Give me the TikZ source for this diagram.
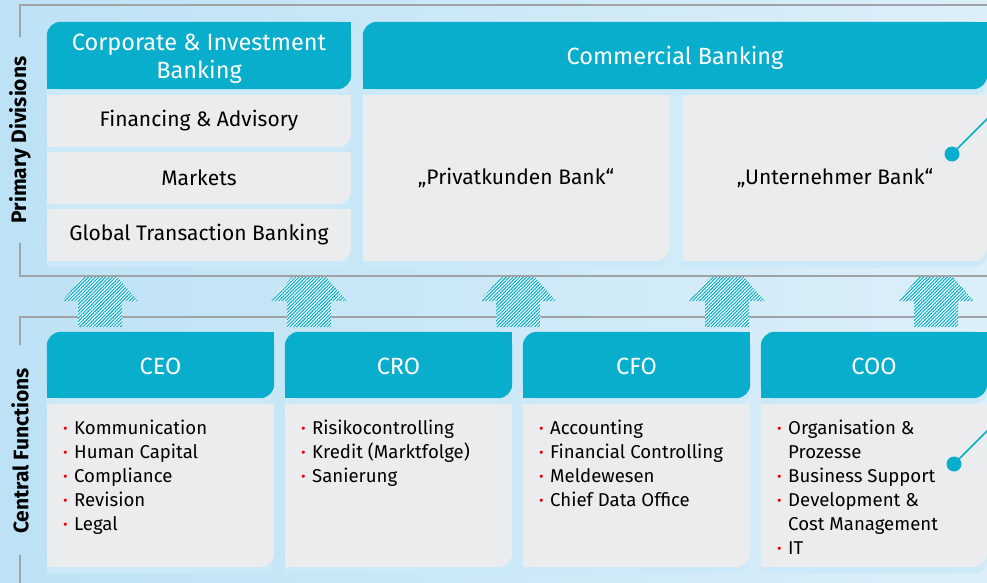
\documentclass[tikz,border=0pt]{standalone}
\usepackage{fontspec}
\setmainfont{Fira Sans}
\usetikzlibrary{patterns,patterns.meta,backgrounds}

\definecolor{tabcyan}{HTML}{0AAECD}
\definecolor{boxgray}{HTML}{EBECED}
\definecolor{bandblue}{HTML}{CBE9F8}
\definecolor{bgleft}{HTML}{BDE2F5}
\definecolor{bgright}{HTML}{DCEFF9}
\definecolor{framegray}{HTML}{A0A3A6}
\definecolor{bulred}{HTML}{E30613}

\tikzstyle{hdr}=[inner sep=0pt,minimum height=67pt,text=white,align=center,text height=19pt,text depth=0pt,font=\fontsize{23.5}{28}\selectfont]
\tikzstyle{cell}=[inner sep=0pt,font=\fontsize{21}{24}\selectfont]
\tikzstyle{lst}=[anchor=north west,align=left,inner sep=0pt,font=\fontsize{18.6}{24}\selectfont]
\tikzstyle{side}=[rotate=90,font=\fontsize{21}{24}\selectfont\bfseries]
\tikzstyle{frame}=[framegray,line width=1.3pt]
\tikzstyle{upar}=[pattern={Lines[angle=45,distance=2.4pt,line width=1.1pt]},pattern color=tabcyan]
\tikzstyle{pin}=[circle,fill=tabcyan,minimum size=15pt,inner sep=0pt]

\newcommand\bl{\makebox[11pt][l]{\textcolor{bulred}{\fontsize{14}{14}\selectfont\raisebox{1pt}{\textbullet}}}}
\newcommand\ind{\hspace*{11pt}}

% header tab: rounded top left and bottom right
\newcommand\tabshape[3]{%
\fill[#2,rounded corners=14pt] ([yshift=#3]#1.south west) rectangle ([yshift=#3]#1.north east);
\fill[#2] ([yshift=#3]#1.north east) rectangle ([xshift=-16pt,yshift=#3-16pt]#1.north east);
\fill[#2] ([yshift=#3]#1.south west) rectangle ([xshift=16pt,yshift=#3+16pt]#1.south west);}

% body box: rounded bottom right only
\newcommand\boxshape[3]{%
\fill[#2,rounded corners=14pt] ([yshift=#3]#1.south west) rectangle ([yshift=#3]#1.north east);
\fill[#2] ([yshift=#3]#1.south west) rectangle ([xshift=-16pt,yshift=#3]#1.north east);
\fill[#2] ([yshift=#3]#1.north west) rectangle ([yshift=#3+16pt]#1.south east);}

\begin{document}
\begin{tikzpicture}[x=1pt,y=-1pt]

\useasboundingbox (0,0) rectangle (987,583);

%%% Primary Divisions

\node[side] (pdlab) at (20,140) {Primary Divisions};

\node[hdr,minimum width=304pt,text height=47pt] (cib) at (199,55.5) {Corporate \& Investment\\Banking};
\node[cell,minimum width=304pt,minimum height=52pt] (fin) at (199,121) {Financing \& Advisory};
\node[cell,minimum width=304pt,minimum height=52pt] (mkt) at (199,178) {Markets};
\node[cell,minimum width=304pt,minimum height=52pt] (gtb) at (199,235) {Global Transaction Banking};

\node[hdr,minimum width=624pt] (cb) at (675,55.5) {Commercial Banking};
\node[cell,minimum width=306pt,minimum height=166pt] (pk) at (516,178) {„Privatkunden Bank“};
\node[cell,minimum width=304pt,minimum height=166pt] (ub) at (835,178) {„Unternehmer Bank“};

\node[pin] (pinub) at (952,154) {};
\coordinate (endub) at (992,114);
\draw[tabcyan,line width=1.6pt] (pinub.center) -- (endub);

%%% Central Functions

\node[side] (cflab) at (20,451) {Central Functions};

\node[hdr,minimum width=227pt,minimum height=66pt] (ceo) at (160.5,365) {CEO};
\node[hdr,minimum width=227pt,minimum height=66pt] (cro) at (398.5,365) {CRO};
\node[hdr,minimum width=227pt,minimum height=66pt] (cfo) at (636.5,365) {CFO};
\node[hdr,minimum width=226pt,minimum height=66pt] (coo) at (874,365) {COO};

\node[cell,minimum width=227pt,minimum height=163pt] (ceobox) at (160.5,485.5) {};
\node[cell,minimum width=227pt,minimum height=163pt] (crobox) at (398.5,485.5) {};
\node[cell,minimum width=227pt,minimum height=163pt] (cfobox) at (636.5,485.5) {};
\node[cell,minimum width=226pt,minimum height=163pt] (coobox) at (874,485.5) {};

\node[lst] (ceolist) at (63,420) {\bl Kommunication\\\bl Human Capital\\\bl Compliance\\\bl Revision\\\bl Legal};
\node[lst] (crolist) at (301,420) {\bl Risikocontrolling\\\bl Kredit (Marktfolge)\\\bl Sanierung};
\node[lst] (cfolist) at (539,420) {\bl Accounting\\\bl Financial Controlling\\\bl Meldewesen\\\bl Chief Data Office};
\node[lst] (coolist) at (777,420) {\bl Organisation \&\\\ind Prozesse\\\bl Business Support\\\bl Development \&\\\ind Cost Management\\\bl IT};

\node[pin] (pincoo) at (954,464) {};
\coordinate (endcoo) at (992,426);
\draw[tabcyan,line width=1.6pt] (pincoo.center) -- (endcoo);

%%% Shapes behind the text

\begin{scope}[on background layer]

\shade[left color=bgleft,right color=bgright] (0,0) rectangle (987,583);

% Frames
\draw[frame] (987,5) -- (20,5) -- (20,37);
\draw[frame] (20,243) -- (20,276) -- (987,276);
\draw[frame] (987,317) -- (20,317) -- (20,345);
\draw[frame] (20,555) -- (20,583);

% Up arrows
\foreach \ax in {100,309,518,727,936}
  \path[fill=white,postaction={upar}] ({\ax-22},327) -- ({\ax-22},301) -- ({\ax-38},301) -- ({\ax-17},277)
    -- ({\ax+17},277) -- ({\ax+38},301) -- ({\ax+22},301) -- ({\ax+22},327) -- cycle;

% Shadows
\foreach \n in {fin,mkt,gtb,pk,ub,ceobox,crobox,cfobox,coobox}
  \boxshape{\n}{bandblue}{-6pt};
\foreach \n in {cib,cb,ceo,cro,cfo,coo}
  \tabshape{\n}{bandblue}{-6pt};

% Boxes
\foreach \n in {fin,mkt,gtb,pk,ub,ceobox,crobox,cfobox,coobox}
  \boxshape{\n}{boxgray}{0pt};
\foreach \n in {cib,cb,ceo,cro,cfo,coo}
  \tabshape{\n}{tabcyan}{0pt};

\end{scope}

\end{tikzpicture}
\end{document}
